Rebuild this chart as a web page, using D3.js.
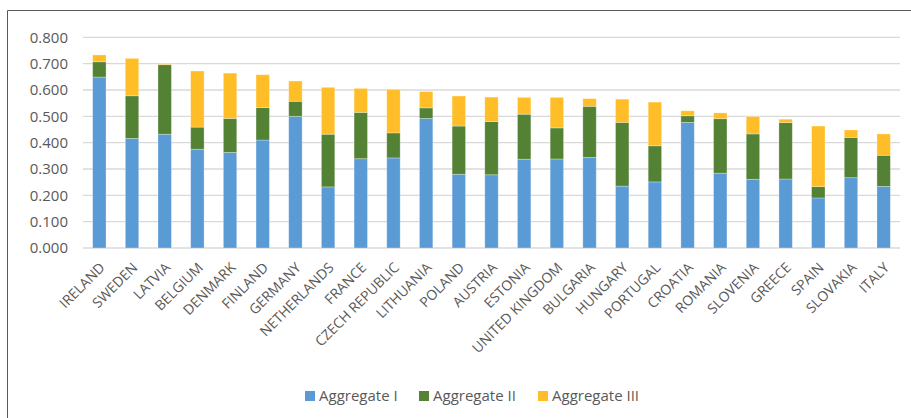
<!DOCTYPE html>
<html>
<head>
<meta charset="utf-8">
<script src="https://cdn.jsdelivr.net/npm/d3@7"></script>
<style>
  body { margin: 0; background: #fff; }
  svg { display: block; font-family: "Open Sans", sans-serif; }
</style>
</head>
<body>
<svg id="chart" width="911" height="418"></svg>
<script>
// Chart data
const countries = ['IRELAND', 'SWEDEN', 'LATVIA', 'BELGIUM', 'DENMARK', 'FINLAND', 'GERMANY',
  'NETHERLANDS', 'FRANCE', 'CZECH REPUBLIC', 'LITHUANIA', 'POLAND', 'AUSTRIA', 'ESTONIA',
  'UNITED KINGDOM', 'BULGARIA', 'HUNGARY', 'PORTUGAL', 'CROATIA', 'ROMANIA', 'SLOVENIA',
  'GREECE', 'SPAIN', 'SLOVAKIA', 'ITALY'];
const aggregate1 = [0.649, 0.416, 0.432, 0.375, 0.363, 0.410, 0.500, 0.232, 0.339, 0.342, 0.492, 0.280, 0.278,
  0.337, 0.338, 0.344, 0.235, 0.251, 0.477, 0.284, 0.261, 0.262, 0.190, 0.267, 0.234];
const aggregate2 = [0.058, 0.162, 0.264, 0.084, 0.129, 0.123, 0.057, 0.200, 0.176, 0.095, 0.040, 0.183, 0.202,
  0.171, 0.118, 0.194, 0.242, 0.137, 0.025, 0.207, 0.172, 0.214, 0.043, 0.153, 0.118];
const aggregate3 = [0.026, 0.142, 0.003, 0.213, 0.172, 0.125, 0.077, 0.178, 0.091, 0.165, 0.062, 0.114, 0.093,
  0.064, 0.116, 0.029, 0.088, 0.166, 0.019, 0.022, 0.066, 0.013, 0.230, 0.028, 0.081];
const seriesNames = ['Aggregate I', 'Aggregate II', 'Aggregate III'];
const yTicks = [0, 0.1, 0.2, 0.3, 0.4, 0.5, 0.6, 0.7, 0.8];

const colors = ['#5B9BD5', '#548235', '#FFBE27'];
const textColor = '#595959';

const svg = d3.select('#chart');

// Outer frame (only top and left edges are visible)
svg.append('path')
  .attr('d', 'M7.5,418 V10.5 H911')
  .attr('fill', 'none')
  .attr('stroke', '#595959')
  .attr('stroke-width', 1);

const margin = { left: 83, right: 11, top: 37, bottom: 170 };
const x = d3.scaleBand()
  .domain(countries)
  .range([margin.left, 900])
  .paddingInner(0.59)
  .paddingOuter(0.295);
const y = d3.scaleLinear()
  .domain([0, 0.8])
  .range([248, 37.3]);

// Gridlines
svg.append('g')
  .selectAll('line')
  .data(yTicks)
  .enter().append('line')
  .attr('x1', margin.left)
  .attr('x2', 900)
  .attr('y1', d => y(d))
  .attr('y2', d => y(d))
  .attr('stroke', '#d9d9d9')
  .attr('stroke-width', 1.3);

// Y axis labels
const yAxis = d3.axisLeft(y)
  .tickValues(yTicks)
  .tickFormat(d3.format('.3f'))
  .tickSize(0)
  .tickPadding(15);
svg.append('g')
  .attr('transform', `translate(${margin.left},0)`)
  .call(yAxis)
  .call(g => g.select('.domain').remove())
  .call(g => g.selectAll('text')
    .attr('fill', textColor)
    .style('font-size', '15px')
    .style('font-family', '"Open Sans", sans-serif'));

// Stacked bars
const rows = countries.map((c, i) => ({
  country: c,
  [seriesNames[0]]: aggregate1[i],
  [seriesNames[1]]: aggregate2[i],
  [seriesNames[2]]: aggregate3[i]
}));
const stacked = d3.stack().keys(seriesNames)(rows);

svg.append('g')
  .selectAll('g')
  .data(stacked)
  .enter().append('g')
  .attr('fill', (d, i) => colors[i])
  .selectAll('rect')
  .data(d => d)
  .enter().append('rect')
  .attr('x', d => x(d.data.country))
  .attr('width', x.bandwidth())
  .attr('y', d => y(d[1]))
  .attr('height', d => Math.max(0, y(d[0]) - y(d[1])))
  .attr('stroke', '#ffffff')
  .attr('stroke-opacity', 0.35)
  .attr('stroke-width', 0.8);

// X axis labels, rotated
const xAxis = d3.axisBottom(x).tickSize(0).tickPadding(0);
svg.append('g')
  .attr('transform', 'translate(0,248)')
  .call(xAxis)
  .call(g => g.select('.domain').remove())
  .call(g => g.selectAll('text')
    .attr('fill', textColor)
    .style('font-size', '14px')
    .style('font-family', '"Open Sans", sans-serif')
    .attr('text-anchor', 'end')
    .attr('dy', '0.35em')
    .attr('transform', 'translate(3,17) rotate(-45)'));

// Legend
const legendX = [305, 419, 538];
const legend = svg.append('g')
  .selectAll('g')
  .data(seriesNames)
  .enter().append('g')
  .attr('transform', (d, i) => `translate(${legendX[i]},391)`);
legend.append('rect')
  .attr('width', 10)
  .attr('height', 10)
  .attr('fill', (d, i) => colors[i]);
legend.append('text')
  .attr('x', 14)
  .attr('y', 5)
  .attr('dy', '0.35em')
  .attr('fill', textColor)
  .style('font-size', '15px')
  .text(d => d);
</script>
</body>
</html>
